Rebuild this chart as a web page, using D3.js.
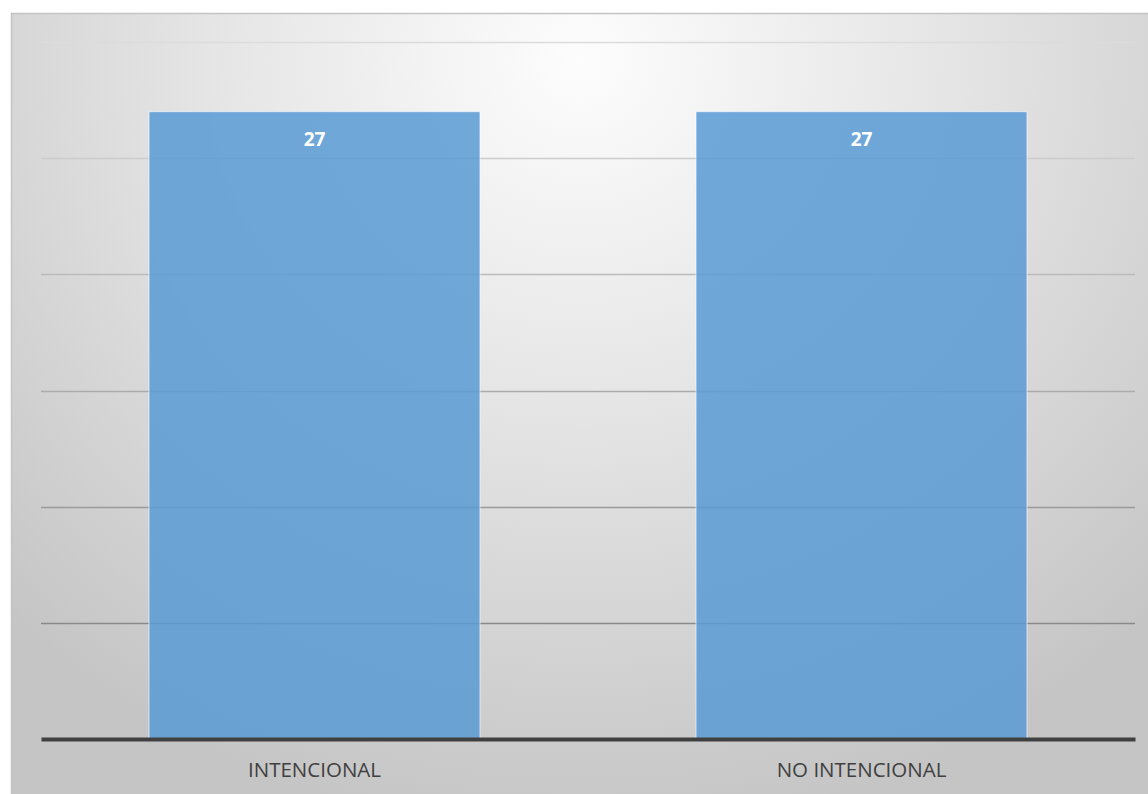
<!DOCTYPE html>
<html><head><meta charset="utf-8">
<script src="https://cdn.jsdelivr.net/npm/d3@7"></script>
<style>html,body{margin:0;padding:0;background:#fff;}svg{display:block;}</style>
</head><body>
<svg id="chart" width="1148" height="794"></svg>
<script>
const categories = ["INTENCIONAL", "NO INTENCIONAL"];
const values = [27, 27];
const tickValues = [0, 5, 10, 15, 20, 25, 30];

const svg = d3.select("#chart");
const defs = svg.append("defs");
const grad = defs.append("radialGradient").attr("id", "bg")
  .attr("gradientUnits", "userSpaceOnUse")
  .attr("cx", 580).attr("cy", 60).attr("r", 820)
  .attr("gradientTransform", "translate(580,60) scale(1,0.95) translate(-580,-60)");
grad.append("stop").attr("offset", "0%").attr("stop-color", "#fdfdfd");
grad.append("stop").attr("offset", "45%").attr("stop-color", "#e5e5e5");
grad.append("stop").attr("offset", "100%").attr("stop-color", "#c5c5c5");

svg.append("rect").attr("x", 11).attr("y", 13).attr("width", 1137).attr("height", 781)
  .attr("fill", "url(#bg)");
svg.append("line").attr("x1", 11).attr("x2", 1148).attr("y1", 13.5).attr("y2", 13.5)
  .attr("stroke", "#c4c4c4").attr("stroke-width", 1.5);
svg.append("line").attr("x1", 11.5).attr("x2", 11.5).attr("y1", 13).attr("y2", 794)
  .attr("stroke", "#c4c4c4").attr("stroke-width", 1.5);

const x = d3.scaleBand().domain(categories).range([41, 1135]).paddingInner(0.395).paddingOuter(0.1975);
const y = d3.scaleLinear().domain([0, 30]).range([739, 42]);

const gridColor = d3.scaleLinear().domain([5, 30]).range(["#8a8a8a", "#dcdcdc"]);
svg.append("g").selectAll("line").data(tickValues.filter(v => v > 0)).join("line")
  .attr("x1", 41).attr("x2", 1135)
  .attr("y1", d => Math.round(y(d)) + 0.5).attr("y2", d => Math.round(y(d)) + 0.5)
  .attr("stroke", d => gridColor(d)).attr("stroke-width", 1.5);

svg.append("g").selectAll("rect").data(categories).join("rect")
  .attr("x", d => x(d)).attr("width", x.bandwidth())
  .attr("y", (d, i) => y(values[i])).attr("height", (d, i) => y(0) - y(values[i]))
  .attr("fill", "#5b9bd5").attr("fill-opacity", 0.86)
  .attr("stroke", "#ffffff").attr("stroke-opacity", 0.6).attr("stroke-width", 1);

svg.append("g").selectAll("text").data(categories).join("text")
  .attr("x", d => x(d) + x.bandwidth() / 2)
  .attr("y", (d, i) => y(values[i]) + 34)
  .attr("text-anchor", "middle")
  .attr("font-family", "Open Sans, Noto Sans, sans-serif")
  .attr("font-weight", "bold").attr("font-size", 19).attr("fill", "#ffffff")
  .text((d, i) => values[i]);

const xAxis = svg.append("g").attr("transform", "translate(0,739)")
  .call(d3.axisBottom(x).tickSize(0).tickPadding(23));
xAxis.select(".domain").attr("stroke", "#404040").attr("stroke-width", 4);
xAxis.selectAll("text")
  .attr("font-family", "Open Sans, Noto Sans, sans-serif")
  .attr("font-size", 20.5).attr("fill", "#404040");
</script>
</body></html>
